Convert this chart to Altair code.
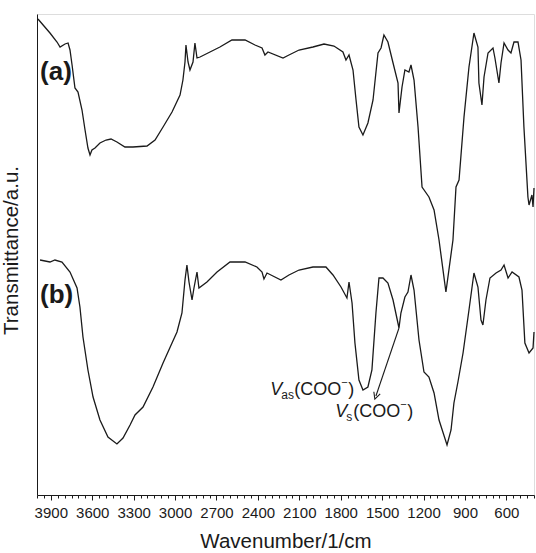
import altair as alt
import pandas as pd

# FTIR spectrum (a): wavenumber (cm^-1) and transmittance (a.u.)
wn_a = [3993, 3906, 3855, 3833, 3797, 3775, 3761, 3746, 3725, 3703, 3674, 3652,
        3631, 3616, 3602, 3580, 3544, 3500, 3464, 3421, 3363, 3305, 3203, 3145,
        3087, 3022, 2964, 2943, 2928, 2921, 2906, 2892, 2870, 2856, 2841, 2819,
        2747, 2675, 2588, 2493, 2421, 2370, 2349, 2327, 2218, 2175, 2102, 2001,
        1921, 1849, 1784, 1762, 1740, 1711, 1689, 1668, 1639, 1603, 1566, 1530,
        1508, 1487, 1458, 1421, 1385, 1378, 1356, 1335, 1306, 1291, 1269, 1240,
        1211, 1161, 1124, 1088, 1038, 987, 965, 943, 907, 871, 835, 806, 799,
        777, 762, 733, 697, 683, 654, 639, 617, 588, 567, 545, 516, 494, 473,
        444, 436, 415, 407, 400]
t_a = [95.2, 92.4, 90.6, 89.6, 90.2, 90.4, 89.0, 86.0, 81.4, 80.6, 77.0, 73.0,
       69.4, 68.0, 69.0, 69.4, 70.4, 71.0, 71.2, 70.6, 69.6, 69.6, 69.8, 71.0,
       73.6, 76.6, 80.0, 83.0, 86.6, 90.0, 86.6, 85.0, 86.6, 90.4, 87.4, 87.6,
       88.6, 89.6, 91.0, 91.0, 90.0, 89.4, 88.0, 88.6, 87.4, 88.0, 89.0, 89.6,
       90.2, 89.8, 88.6, 87.0, 88.0, 85.0, 79.0, 73.6, 72.0, 74.4, 79.0, 88.4,
       89.4, 92.0, 90.6, 86.4, 82.4, 76.4, 81.6, 85.0, 84.6, 86.0, 83.0, 73.6,
       61.6, 59.6, 57.0, 51.0, 40.6, 51.0, 61.6, 63.0, 75.6, 85.6, 92.4, 89.6, 82.4,
       78.0, 83.6, 88.4, 89.4, 87.4, 82.4, 86.4, 90.4, 89.0, 88.4, 90.6, 90.6, 87.0, 73.6,
       59.6, 58.0, 60.0, 57.6, 61.4]

# FTIR spectrum (b)
wn_b = [3978, 3906, 3870, 3819, 3761, 3710, 3689, 3667, 3631, 3594, 3544, 3486,
        3421, 3377, 3326, 3290, 3232, 3160, 3087, 3022, 2986, 2950, 2928, 2914,
        2899, 2877, 2863, 2841, 2827, 2769, 2696, 2602, 2493, 2407, 2370, 2356,
        2334, 2233, 2175, 2102, 2001, 1907, 1856, 1798, 1755, 1740, 1718, 1697,
        1668, 1639, 1603, 1574, 1545, 1523, 1494, 1458, 1421, 1378, 1364, 1335,
        1313, 1291, 1269, 1233, 1197, 1161, 1124, 1088, 1030, 1001, 980, 951,
        914, 871, 835, 806, 784, 770, 748, 719, 675, 639, 617, 588, 559, 509,
        487, 466, 436, 407, 400]
t_b = [47.0, 46.6, 47.0, 46.6, 44.6, 41.4, 37.6, 31.6, 25.0, 19.6, 15.0, 11.6,
       10.2, 11.4, 14.0, 16.0, 17.6, 21.6, 26.4, 30.4, 32.6, 36.4, 43.0, 46.0,
       42.6, 39.0, 41.4, 44.6, 41.4, 42.6, 44.6, 46.6, 46.6, 45.6, 44.6, 43.2,
       44.4, 43.0, 44.0, 45.0, 45.6, 45.6, 44.0, 41.6, 39.4, 42.6, 38.4, 30.4,
       23.0, 21.0, 21.6, 25.0, 36.4, 43.4, 43.4, 42.4, 39.0, 33.4, 36.4, 39.6,
       40.6, 44.0, 41.0, 31.0, 24.6, 23.6, 20.4, 15.0, 10.0, 13.0, 18.4, 22.6,
       28.4, 37.0, 44.4, 41.6, 35.0, 34.0, 39.0, 43.4, 44.4, 45.0, 46.0, 43.4, 44.6, 43.6,
       41.0, 30.4, 28.4, 29.4, 32.6]

# Sample labels
lab_text = ["(a)", "(b)"]
lab_wn = [3978, 3978]
lab_t = [83.0, 38.4]

# Band assignments: anchor (wavenumber, transmittance) of each label
band_names = ["as", "s"]
band_wn = [2310, 1840]
band_t = [20.0, 15.6]

# Arrow from the symmetric COO- band down to its label
arrow_wn = [1378, 1545]
arrow_t = [33.4, 19.8]

all_ticks = list(range(400, 4001, 50))

FONT = "Liberation Sans"
INK = "#1a1a1a"

spec = pd.concat([
    pd.DataFrame({"wn": wn_a, "t": t_a, "sample": "a"}),
    pd.DataFrame({"wn": wn_b, "t": t_b, "sample": "b"}),
], ignore_index=True)
spec["idx"] = range(len(spec))

x_scale = alt.Scale(domain=[400, 4000], reverse=True, nice=False, zero=False)
y_scale = alt.Scale(domain=[0, 96.2], nice=False, zero=False)

x_axis = alt.Axis(
    values=all_ticks,
    tickCount=200,
    labelExpr="datum.value % 300 === 0 ? datum.label : ''",
    tickSize={"condition": {"test": "datum.value % 300 === 0", "value": 5}, "value": 3},
    labelPadding=5,
    labelOverlap=False,
    labelFlush=False,
    grid=False,
    format="d",
    title="Wavenumber/1/cm",
    titlePadding=11,
    titleFontSize=20.5,
    titleFontWeight="normal",
    labelFontSize=15,
    domainColor=INK,
    tickColor=INK,
    labelColor=INK,
    titleColor=INK,
)
y_axis = alt.Axis(
    labels=False, ticks=False, grid=False,
    title="Transmittance/a.u.",
    titleFontSize=20.5, titleFontWeight="normal",
    titleY=236, titleX=-16,
    domainColor=INK, titleColor=INK,
)

lines = alt.Chart(spec).mark_line(color=INK, strokeWidth=1.3).encode(
    x=alt.X("wn:Q", scale=x_scale, axis=x_axis),
    y=alt.Y("t:Q", scale=y_scale, axis=y_axis),
    detail="sample:N",
    order="idx:Q",
)

labels = alt.Chart(pd.DataFrame({"wn": lab_wn, "t": lab_t, "txt": lab_text})).mark_text(
    align="left", baseline="alphabetic", fontSize=26, fontWeight="bold", font=FONT, color=INK
).encode(x=alt.X("wn:Q", scale=x_scale), y=alt.Y("t:Q", scale=y_scale), text="txt:N")

bands = pd.DataFrame({"wn": band_wn, "t": band_t, "sub": band_names})
bands["V"] = "V"
bands["body"] = "(COO"
bands["minus"] = "\u2212"
bands["close"] = ")"
bands["sub_w"] = [12, 6]


def piece(data, field, size, dx, dy, italic=False):
    return alt.Chart(data).mark_text(
        align="left", baseline="alphabetic", fontSize=size, font=FONT, color=INK,
        fontStyle="italic" if italic else "normal", dx=dx, dy=dy,
    ).encode(x=alt.X("wn:Q", scale=x_scale), y=alt.Y("t:Q", scale=y_scale), text=f"{field}:N")


band_layers = [piece(bands, "V", 18, 0, 0, italic=True), piece(bands, "sub", 12, 11, 4)]
# the body, superscript minus and closing parenthesis follow the subscript
for i in range(len(band_wn)):
    one = bands.iloc[[i]]
    w = int(one["sub_w"].iloc[0])
    band_layers += [
        piece(one, "body", 18, 12 + w, 0),
        piece(one, "minus", 11, 12 + w + 47, -9),
        piece(one, "close", 18, 12 + w + 54, 0),
    ]

arrow_df = pd.DataFrame({"wn": arrow_wn, "t": arrow_t, "k": [0, 1]})
arrow_line = alt.Chart(arrow_df).mark_line(color=INK, strokeWidth=1.1).encode(
    x=alt.X("wn:Q", scale=x_scale), y=alt.Y("t:Q", scale=y_scale), order="k:Q"
)
arrow_head = alt.Chart(arrow_df[arrow_df["k"] == 1]).mark_point(
    shape="M -1 1 L 0 -1 L 1 1", filled=False, color=INK, strokeWidth=1.1, size=45, angle=199,
    opacity=1,
).encode(x=alt.X("wn:Q", scale=x_scale), y=alt.Y("t:Q", scale=y_scale))

chart = alt.layer(
    lines, labels, *band_layers, arrow_line, arrow_head
).properties(
    width=497, height=481,
    autosize=alt.AutoSizeParams(type="none"),
    padding={"left": 37, "top": 14, "right": 2, "bottom": 58},
).configure_view(
    stroke=INK, strokeWidth=1
).configure(
    font=FONT, background="white"
)

chart.save("out.html", embed_options={"renderer": "svg", "actions": False})
